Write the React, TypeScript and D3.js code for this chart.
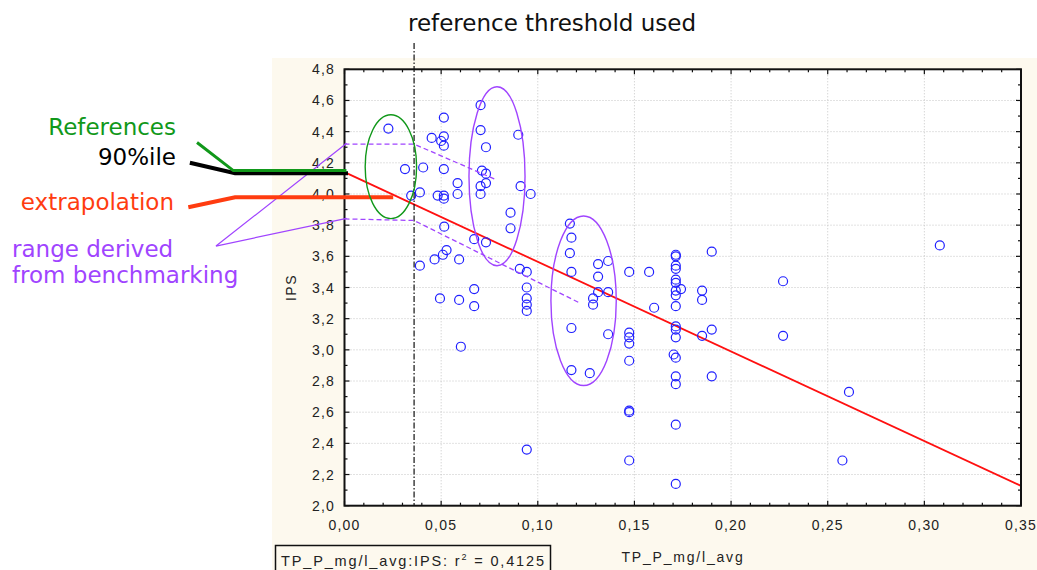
import React, { useEffect, useRef } from "react";
import * as d3 from "d3";

// TP_P_mg/l_avg (x) and IPS (y)
const tpValues = [
  0.0227, 0.0313, 0.0345, 0.039, 0.0407, 0.0451, 0.0482, 0.05, 0.0514, 0.0514,
  0.0514, 0.0514, 0.0514, 0.0514, 0.0516, 0.0585, 0.0585, 0.0671, 0.0704, 0.0704,
  0.0732, 0.0711, 0.0732, 0.0732, 0.0704, 0.0704, 0.0732, 0.0859, 0.0859, 0.0899,
  0.0911, 0.0963, 0.039, 0.0466, 0.0509, 0.0528, 0.0593, 0.0494, 0.0593, 0.0671,
  0.0671, 0.0602, 0.0907, 0.0943, 0.0943, 0.0943, 0.0943, 0.0943, 0.0943, 0.1166,
  0.1174, 0.1166, 0.1174, 0.1174, 0.1174, 0.1269, 0.1312, 0.1312, 0.1364, 0.1312,
  0.1286, 0.1286, 0.1364, 0.1364, 0.1473, 0.1576, 0.1602, 0.1473, 0.1473, 0.1473,
  0.1473, 0.1473, 0.1473, 0.1473, 0.1714, 0.1714, 0.1714, 0.1714, 0.1714, 0.1714,
  0.1714, 0.1714, 0.1714, 0.1714, 0.1714, 0.1714, 0.1714, 0.1714, 0.1714, 0.1714,
  0.1714, 0.1741, 0.1703, 0.185, 0.185, 0.19, 0.19, 0.185, 0.19, 0.2269,
  0.2269, 0.308, 0.261, 0.2576,
];
const ipsValues = [
  4.42, 4.16, 3.99, 4.01, 4.17, 4.36, 3.99, 4.34, 4.49, 4.37,
  4.31, 4.16, 3.99, 3.97, 3.79, 4.07, 4.0, 3.71, 4.57, 4.41,
  4.3, 4.15, 4.13, 4.07, 4.05, 4.0, 3.69, 3.88, 3.78, 4.38,
  4.05, 4.0, 3.54, 3.58, 3.61, 3.64, 3.58, 3.33, 3.32, 3.39,
  3.28, 3.02, 3.52, 3.5, 3.4, 3.33, 3.29, 3.25, 2.36, 3.81,
  3.72, 3.62, 3.5, 3.14, 2.87, 2.85, 3.55, 3.47, 3.57, 3.37,
  3.33, 3.29, 3.37, 3.1, 3.5, 3.5, 3.27, 3.11, 3.08, 3.04,
  2.93, 2.61, 2.6, 2.29, 3.61, 3.6, 3.54, 3.52, 3.45, 3.43,
  3.38, 3.35, 3.28, 3.15, 3.13, 3.08, 2.95, 2.83, 2.78, 2.52,
  2.14, 3.39, 2.97, 3.38, 3.32, 3.63, 3.13, 3.09, 2.83, 3.44,
  3.09, 3.67, 2.73, 2.29,
];

const xTicks = [0, 0.05, 0.1, 0.15, 0.2, 0.25, 0.3, 0.35];
const yTicks = [2.0, 2.2, 2.4, 2.6, 2.8, 3.0, 3.2, 3.4, 3.6, 3.8, 4.0, 4.2, 4.4, 4.6, 4.8];

// linear fit IPS = a + b * TP
const fitIntercept = 4.14;
const fitSlope = -5.75;
const rSquared = "0,4125";
const thresholdTP = 0.036;

// annotations, in data units
const greenPath: [number, number][] = [[-0.0763, 4.33], [-0.0575, 4.15], [0.001, 4.15]];
const blackPath: [number, number][] = [[-0.08, 4.2], [-0.0566, 4.133], [0.0018, 4.133]];
const orangePath: [number, number][] = [[-0.0808, 3.915], [-0.0566, 3.979], [0.0252, 3.979]];
const purpleFan: [number, number][] = [[0.0011, 4.325], [-0.0665, 3.666], [0.0011, 3.844]];
const upperDashed: [number, number][] = [[0, 4.32], [0.036, 4.32], [0.0787, 4.09]];
const lowerDashed: [number, number][] = [[0, 3.84], [0.036, 3.83], [0.1218, 3.3]];
// ellipses: cx, cy, rx, ry (data units)
const greenEllipse = [0.024, 4.175, 0.0133, 0.333];
const purpleEllipses = [
  [0.0789, 4.114, 0.0145, 0.574],
  [0.1237, 3.315, 0.0169, 0.544],
];

const fmt = (v: number, d: number) => v.toFixed(d).replace(".", ",");

function App() {
  const svgRef = useRef<SVGSVGElement>(null);

  useEffect(() => {
    const width = 1037;
    const height = 570;
    const svg = d3.select(svgRef.current);
    svg.selectAll("*").remove();

    const x = d3.scaleLinear().domain([0, 0.35]).range([344.5, 1021]);
    const y = d3.scaleLinear().domain([2, 4.8]).range([505.7, 69.3]);
    const axisFont = "'Liberation Sans', Arial, sans-serif";
    const noteFont = "'DejaVu Sans', Verdana, sans-serif";

    svg.append("rect").attr("width", width).attr("height", height).attr("fill", "#ffffff");
    svg.append("rect")
      .attr("x", 272).attr("y", 58)
      .attr("width", width - 272).attr("height", height - 58)
      .attr("fill", "#fdf9ee");
    svg.append("rect")
      .attr("x", x(0)).attr("y", y(4.8))
      .attr("width", x(0.35) - x(0)).attr("height", y(2) - y(4.8))
      .attr("fill", "#ffffff");

    // grid
    const grid = svg.append("g").attr("stroke", "#c4c4c4").attr("stroke-dasharray", "1,2");
    grid.selectAll("line.gx").data(xTicks.slice(1, -1)).join("line")
      .attr("x1", d => x(d)).attr("x2", d => x(d))
      .attr("y1", y(4.8)).attr("y2", y(2));
    grid.selectAll("line.gy").data(yTicks.slice(1, -1)).join("line")
      .attr("class", "gy")
      .attr("x1", x(0)).attr("x2", x(0.35))
      .attr("y1", d => y(d)).attr("y2", d => y(d));

    // ticks (inward, on all four sides)
    const ticks = svg.append("g").attr("stroke", "#111").attr("stroke-width", 1.2);
    const xMinor = d3.range(0, 0.3501, 0.01);
    const yMinor = d3.range(2, 4.801, 0.1);
    ticks.selectAll("line.xb").data(xMinor).join("line").attr("class", "xb")
      .attr("x1", d => x(d)).attr("x2", d => x(d))
      .attr("y1", y(2)).attr("y2", (d, i) => y(2) - (i % 5 === 0 ? 5 : 3));
    ticks.selectAll("line.xt").data(xMinor).join("line").attr("class", "xt")
      .attr("x1", d => x(d)).attr("x2", d => x(d))
      .attr("y1", y(4.8)).attr("y2", (d, i) => y(4.8) + (i % 5 === 0 ? 5 : 3));
    ticks.selectAll("line.yl").data(yMinor).join("line").attr("class", "yl")
      .attr("y1", d => y(d)).attr("y2", d => y(d))
      .attr("x1", x(0)).attr("x2", (d, i) => x(0) + (i % 2 === 0 ? 5 : 3));
    ticks.selectAll("line.yr").data(yMinor).join("line").attr("class", "yr")
      .attr("y1", d => y(d)).attr("y2", d => y(d))
      .attr("x1", x(0.35)).attr("x2", (d, i) => x(0.35) - (i % 2 === 0 ? 5 : 3));

    // tick labels
    svg.append("g").selectAll("text").data(xTicks).join("text")
      .attr("x", d => x(d)).attr("y", 530)
      .attr("text-anchor", "middle")
      .attr("font-family", axisFont).attr("font-size", 14)
      .attr("letter-spacing", 1.2).attr("fill", "#222")
      .text(d => fmt(d, 2));
    svg.append("g").selectAll("text").data(yTicks).join("text")
      .attr("x", 335).attr("y", d => y(d) + 5)
      .attr("text-anchor", "end")
      .attr("font-family", axisFont).attr("font-size", 14)
      .attr("letter-spacing", 1.2).attr("fill", "#222")
      .text(d => fmt(d, 1));

    // axis titles
    svg.append("text")
      .attr("transform", `translate(296,${(y(2) + y(4.8)) / 2}) rotate(-90)`)
      .attr("text-anchor", "middle")
      .attr("font-family", axisFont).attr("font-size", 14)
      .attr("letter-spacing", 1.5).attr("fill", "#222")
      .text("IPS");
    svg.append("text")
      .attr("x", 683).attr("y", 562)
      .attr("text-anchor", "middle")
      .attr("font-family", axisFont).attr("font-size", 14)
      .attr("letter-spacing", 1.8).attr("fill", "#222")
      .text("TP_P_mg/l_avg");

    // legend box
    svg.append("rect")
      .attr("x", 275.5).attr("y", 545.5).attr("width", 275).attr("height", 30)
      .attr("fill", "none").attr("stroke", "#111").attr("stroke-width", 1.5);
    const leg = svg.append("text")
      .attr("x", 281).attr("y", 566)
      .attr("font-family", axisFont).attr("font-size", 14.5)
      .attr("letter-spacing", 1.85).attr("fill", "#222");
    leg.append("tspan").text("TP_P_mg/l_avg:IPS:  r");
    leg.append("tspan").attr("font-size", 9).attr("dy", -6).text("2");
    leg.append("tspan").attr("dy", 6).text(` = ${rSquared}`);

    // regression line
    svg.append("line")
      .attr("x1", x(0)).attr("y1", y(fitIntercept))
      .attr("x2", x(0.35)).attr("y2", y(fitIntercept + fitSlope * 0.35))
      .attr("stroke", "#ff1010").attr("stroke-width", 1.8);

    // points
    svg.append("g").selectAll("circle").data(tpValues).join("circle")
      .attr("cx", d => x(d))
      .attr("cy", (d, i) => y(ipsValues[i]))
      .attr("r", 4.5)
      .attr("fill", "none").attr("stroke", "#2020ff").attr("stroke-width", 1.2);

    // frame
    svg.append("rect")
      .attr("x", x(0)).attr("y", y(4.8))
      .attr("width", x(0.35) - x(0)).attr("height", y(2) - y(4.8))
      .attr("fill", "none").attr("stroke", "#111").attr("stroke-width", 2);

    // threshold line
    svg.append("line")
      .attr("x1", x(thresholdTP)).attr("x2", x(thresholdTP))
      .attr("y1", 43).attr("y2", y(2))
      .attr("stroke", "#111").attr("stroke-width", 1.2)
      .attr("stroke-dasharray", "6,2,1.5,2");
    svg.append("text")
      .attr("x", 552).attr("y", 31)
      .attr("text-anchor", "middle")
      .attr("font-family", noteFont).attr("font-size", 23).attr("fill", "#111")
      .text("reference threshold used");

    // annotations
    const line = d3.line<[number, number]>().x(d => x(d[0])).y(d => y(d[1]));
    const purple = "#a044ff";
    svg.append("path").attr("d", line(purpleFan)).attr("fill", "none")
      .attr("stroke", purple).attr("stroke-width", 1.2);
    [upperDashed, lowerDashed].forEach(p => {
      svg.append("path").attr("d", line(p)).attr("fill", "none")
        .attr("stroke", purple).attr("stroke-width", 1.3).attr("stroke-dasharray", "5,3");
    });
    svg.append("path").attr("d", line(blackPath)).attr("fill", "none")
      .attr("stroke", "#000").attr("stroke-width", 4);
    svg.append("path").attr("d", line(greenPath)).attr("fill", "none")
      .attr("stroke", "#11981a").attr("stroke-width", 3);
    svg.append("path").attr("d", line(orangePath)).attr("fill", "none")
      .attr("stroke", "#ff3c10").attr("stroke-width", 4);

    const ellipse = (e: number[], color: string) =>
      svg.append("ellipse")
        .attr("cx", x(e[0])).attr("cy", y(e[1]))
        .attr("rx", x(e[2]) - x(0)).attr("ry", y(2) - y(2 + e[3]))
        .attr("fill", "none").attr("stroke", color).attr("stroke-width", 1.4);
    ellipse(greenEllipse, "#11981a");
    purpleEllipses.forEach(e => ellipse(e, purple));

    const note = (txt: string, tx: number, ty: number, color: string, anchor: string) =>
      svg.append("text")
        .attr("x", tx).attr("y", ty).attr("text-anchor", anchor)
        .attr("font-family", noteFont).attr("font-size", 23).attr("fill", color)
        .text(txt);
    note("References", 176, 135, "#11981a", "end");
    note("90%ile", 176, 165, "#000", "end");
    note("extrapolation", 174, 210, "#ff3c10", "end");
    note("range derived", 12, 257, purple, "start");
    note("from benchmarking", 12, 283, purple, "start");
  }, []);

  return (
    <svg
      ref={svgRef}
      width={1037}
      height={570}
      style={{ position: "absolute", left: 0, top: 0 }}
    />
  );
}

export default App;
